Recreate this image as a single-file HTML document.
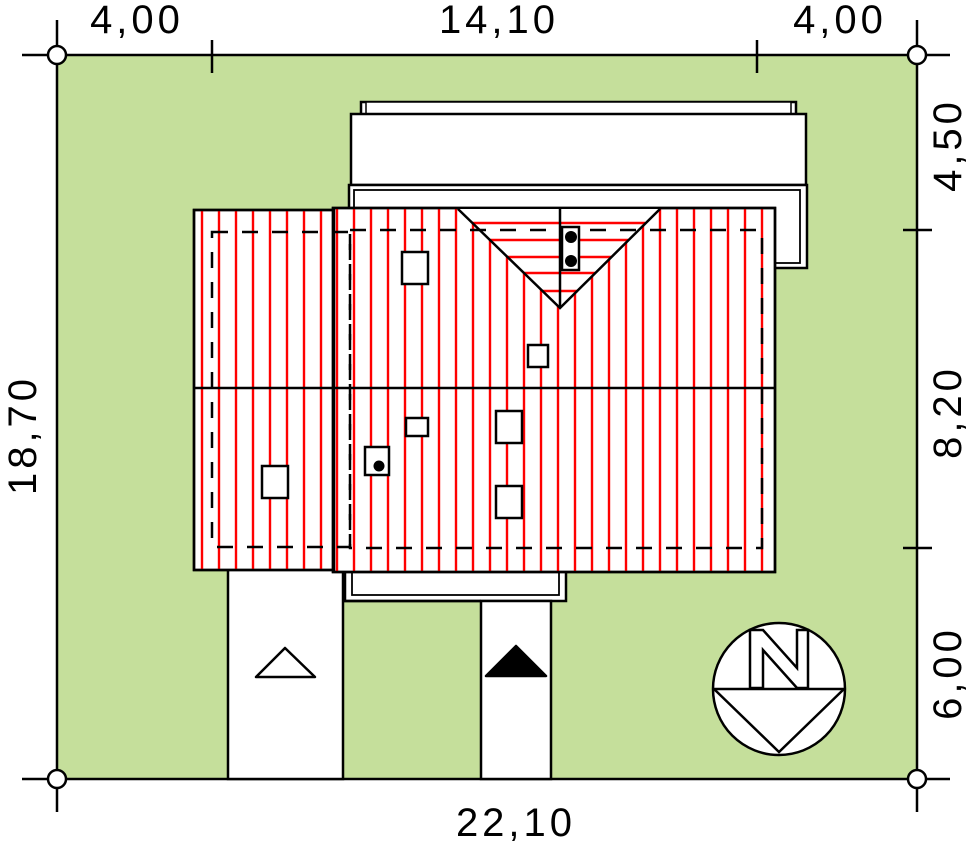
<!DOCTYPE html>
<html><head><meta charset="utf-8"><style>html,body{margin:0;padding:0;background:#fff}svg{display:block}</style></head><body>
<svg width="970" height="841" viewBox="0 0 970 841" xmlns="http://www.w3.org/2000/svg">
<defs>
<pattern id="rl" patternUnits="userSpaceOnUse" x="0" y="0" width="17" height="10">
<line x1="15" y1="0" x2="15" y2="10" stroke="#f00" stroke-width="2.4"/>
</pattern>
<pattern id="rm" patternUnits="userSpaceOnUse" x="0" y="0" width="17" height="10">
<line x1="14" y1="0" x2="14" y2="10" stroke="#f00" stroke-width="2.4"/>
</pattern>
</defs>
<g stroke="#000" stroke-width="2.5" fill="none">
<rect x="57" y="55" width="860" height="724" fill="#c5df9b"/>
<line x1="22" y1="55" x2="57" y2="55"/><line x1="57" y1="20" x2="57" y2="55"/>
<line x1="917" y1="20" x2="917" y2="55"/><line x1="917" y1="55" x2="950" y2="55"/>
<line x1="22" y1="779" x2="57" y2="779"/><line x1="57" y1="779" x2="57" y2="812"/>
<line x1="917" y1="779" x2="950" y2="779"/><line x1="917" y1="779" x2="917" y2="812"/>
<line x1="212" y1="40" x2="212" y2="73"/><line x1="757" y1="40" x2="757" y2="73"/>
<line x1="903" y1="230" x2="932" y2="230"/><line x1="903" y1="548" x2="932" y2="548"/>
<rect x="361" y="102" width="435" height="14" fill="#fff"/>
<rect x="366" y="102" width="425" height="14" fill="#fff" stroke-width="1.5"/>
<rect x="351" y="114" width="455" height="71" fill="#fff"/>
<rect x="349" y="185" width="458" height="83" fill="#fff"/>
<rect x="354" y="190" width="446" height="73" fill="#fff" stroke-width="1.8"/>
<rect x="345" y="570" width="221" height="31" fill="#fff"/>
<rect x="352" y="570" width="207" height="25" fill="#fff" stroke-width="1.8"/>
<rect x="228" y="568" width="115" height="211" fill="#fff"/>
<rect x="481" y="601" width="70" height="178" fill="#fff"/>
<line x1="343" y1="601" x2="481" y2="601"/>
<rect x="194" y="210" width="140" height="360" fill="#fff"/>
<rect x="194" y="210" width="140" height="360" fill="url(#rl)" stroke="none"/>
<rect x="333" y="208" width="442" height="364" fill="#fff"/>
<rect x="334" y="209" width="440" height="362" fill="url(#rm)" stroke="none"/>
<rect x="194" y="210" width="140" height="360"/>
<rect x="333" y="208" width="442" height="364"/>
<polygon points="458,209 660,209 560,308" fill="#fff" stroke="none"/>
<g stroke="#f00" stroke-width="2.4">
<line x1="472" y1="223" x2="645" y2="223"/>
<line x1="489" y1="240" x2="628" y2="240"/>
<line x1="506" y1="257" x2="611" y2="257"/>
<line x1="523" y1="273" x2="595" y2="273"/>
<line x1="541" y1="291" x2="578" y2="291"/>
</g>
<polyline points="458,209 560,308 660,209"/>
<line x1="560" y1="209" x2="560" y2="308"/>
<line x1="194" y1="388" x2="775" y2="388"/>
<g stroke-dasharray="16,14">
<rect x="212" y="232" width="138" height="315"/>
<rect x="350" y="230" width="412" height="318"/>
</g>
<rect x="562" y="227" width="17" height="43" fill="#fff"/>
<rect x="402" y="252" width="26" height="32" fill="#fff"/>
<rect x="528" y="345" width="20" height="22" fill="#fff"/>
<rect x="406" y="418" width="22" height="18" fill="#fff"/>
<rect x="496" y="411" width="26" height="32" fill="#fff"/>
<rect x="496" y="486" width="26" height="32" fill="#fff"/>
<rect x="365" y="447" width="24" height="28" fill="#fff"/>
<rect x="262" y="466" width="26" height="32" fill="#fff"/>
<circle cx="57" cy="55" r="9" fill="#fff"/><circle cx="917" cy="55" r="9" fill="#fff"/>
<circle cx="57" cy="779" r="9" fill="#fff"/><circle cx="917" cy="779" r="9" fill="#fff"/>
<polygon points="256,677 285,648 315,677" fill="#fff" stroke-linejoin="round"/>
<polygon points="486,676 516,646 546,676" fill="#000" stroke-linejoin="round"/>
<circle cx="779" cy="689" r="66" fill="#fff"/>
<line x1="713" y1="689" x2="845" y2="689"/>
<polyline points="714,689 779,752 844,689"/>
<polygon points="750,688 750,630 763,630 797,668 797,630 808,630 808,688 797,688 763,650 763,688" fill="#fff"/>
</g>
<g fill="#000">
<circle cx="571" cy="237" r="6"/><circle cx="571" cy="261" r="6"/>
<circle cx="379" cy="466" r="5.5"/>
</g>
<g font-family="Liberation Sans, sans-serif" font-size="40" fill="#000" text-anchor="middle" letter-spacing="4">
<text x="137" y="33">4,00</text>
<text x="499" y="33">14,10</text>
<text x="840" y="33">4,00</text>
<text x="516" y="836">22,10</text>
<text transform="translate(36,435) rotate(-90)">18,70</text>
<text transform="translate(961,145) rotate(-90)">4,50</text>
<text transform="translate(961,412) rotate(-90)">8,20</text>
<text transform="translate(961,673) rotate(-90)">6,00</text>
</g>
</svg>
</body></html>
